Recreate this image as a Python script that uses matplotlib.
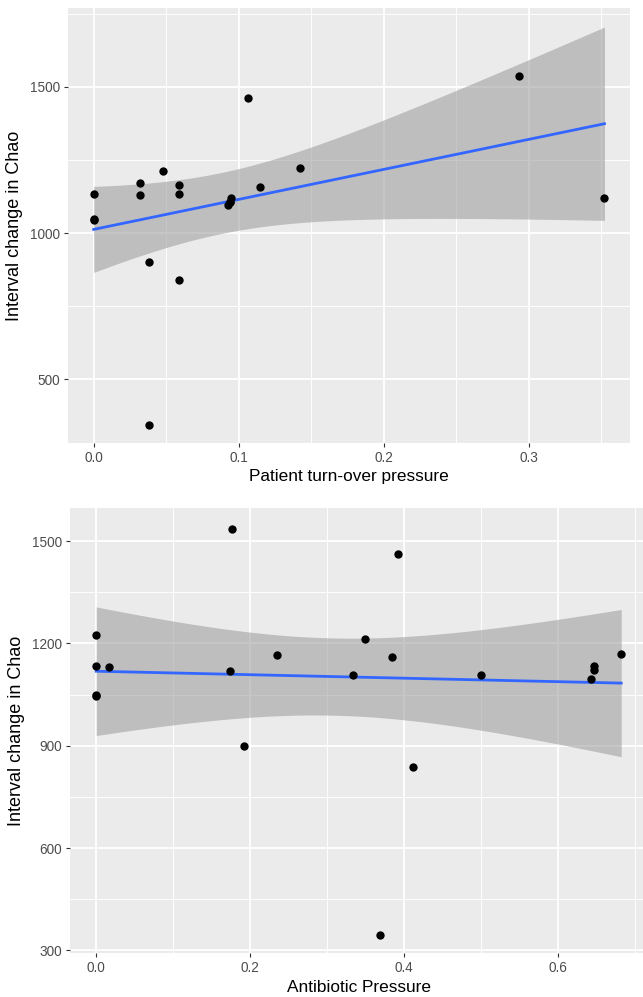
import numpy as np
import matplotlib
matplotlib.use("Agg")
import matplotlib.pyplot as plt
from matplotlib.ticker import MultipleLocator

plt.rcParams['font.family'] = ['Liberation Sans', 'DejaVu Sans']

# Data
chao_change = [1224, 1133, 1131, 1050, 1045, 1536, 1119, 1166, 900, 1461,
               1213, 1159, 1107, 839, 345, 1106, 1134, 1122, 1096, 1170]
turnover = [0.1425, 0.0, 0.032, 0.0, 0.0, 0.2935, 0.095, 0.0588, 0.0384, 0.1066,
            0.0476, 0.115, 0.094, 0.0588, 0.0384, 0.094, 0.0588, 0.3524, 0.093, 0.032]
antibiotic = [0.0, 0.0, 0.016, 0.0, 0.0, 0.1764, 0.1742, 0.2354, 0.192, 0.3927,
              0.349, 0.3845, 0.3333, 0.412, 0.3685, 0.5, 0.6467, 0.6467, 0.6428, 0.6827]

top_xticks = [0.0, 0.1, 0.2, 0.3]
top_yticks = [500, 1000, 1500]
bot_xticks = [0.0, 0.2, 0.4, 0.6]
bot_yticks = [300, 600, 900, 1200, 1500]

T975 = 2.100922  # t quantile, df = 18

BG = '#EBEBEB'


def lm_fit(x, y):
    x = np.asarray(x, float)
    y = np.asarray(y, float)
    n = len(x)
    b, a = np.polyfit(x, y, 1)
    resid = y - (a + b * x)
    s = np.sqrt(np.sum(resid ** 2) / (n - 2))
    xbar = x.mean()
    sxx = np.sum((x - xbar) ** 2)
    xs = np.linspace(x.min(), x.max(), 80)
    fit = a + b * xs
    se = s * np.sqrt(1.0 / n + (xs - xbar) ** 2 / sxx)
    return xs, fit, fit - T975 * se, fit + T975 * se


def style(ax, xticks, yticks, xminor, yminor, xlabel):
    ax.set_facecolor(BG)
    for sp in ax.spines.values():
        sp.set_visible(False)
    ax.set_xticks(xticks)
    ax.set_yticks(yticks)
    ax.xaxis.set_minor_locator(MultipleLocator(xminor))
    ax.yaxis.set_minor_locator(MultipleLocator(yminor))
    ax.grid(which='major', color='white', lw=1.3, zorder=0)
    ax.grid(which='minor', color='white', lw=0.65, zorder=0)
    ax.set_axisbelow(True)
    ax.tick_params(which='major', length=3, width=0.8, color='#333333',
                   labelcolor='#4D4D4D', labelsize=9.8, pad=3)
    ax.tick_params(which='minor', length=0)
    ax.set_xlabel(xlabel, fontsize=12.4, color='black', labelpad=3)
    ax.set_ylabel('Interval change in Chao', fontsize=13, color='black', labelpad=5)


fig = plt.figure(figsize=(6.43, 9.97), dpi=100)

# Top panel
ax1 = fig.add_axes([0.1058, 0.5557, 0.874, 0.4363])
style(ax1, top_xticks, top_yticks, 0.05, 250, 'Patient turn-over pressure')
xs, fit, lo, hi = lm_fit(turnover, chao_change)
ax1.fill_between(xs, lo, hi, color='#999999', alpha=0.55, lw=0, zorder=2)
ax1.plot(xs, fit, color='#3366FF', lw=2.0, zorder=3)
ax1.scatter(turnover, chao_change, s=36, color='black', lw=0, zorder=4)
ax1.set_xlim(-0.0177, 0.370)
ax1.set_ylim(283, 1770)
ax1.set_xticklabels(['0.0', '0.1', '0.2', '0.3'])

# Bottom panel
ax2 = fig.add_axes([0.1089, 0.0441, 0.898, 0.4463])
style(ax2, bot_xticks, bot_yticks, 0.1, 150, 'Antibiotic Pressure')
xs, fit, lo, hi = lm_fit(antibiotic, chao_change)
ax2.fill_between(xs, lo, hi, color='#999999', alpha=0.55, lw=0, zorder=2)
ax2.plot(xs, fit, color='#3366FF', lw=2.0, zorder=3)
ax2.scatter(antibiotic, chao_change, s=36, color='black', lw=0, zorder=4)
ax2.set_xlim(-0.0341, 0.7168)
ax2.set_ylim(292, 1597)
ax2.set_xticklabels(['0.0', '0.2', '0.4', '0.6'])

fig.savefig('out.png', dpi=100)
